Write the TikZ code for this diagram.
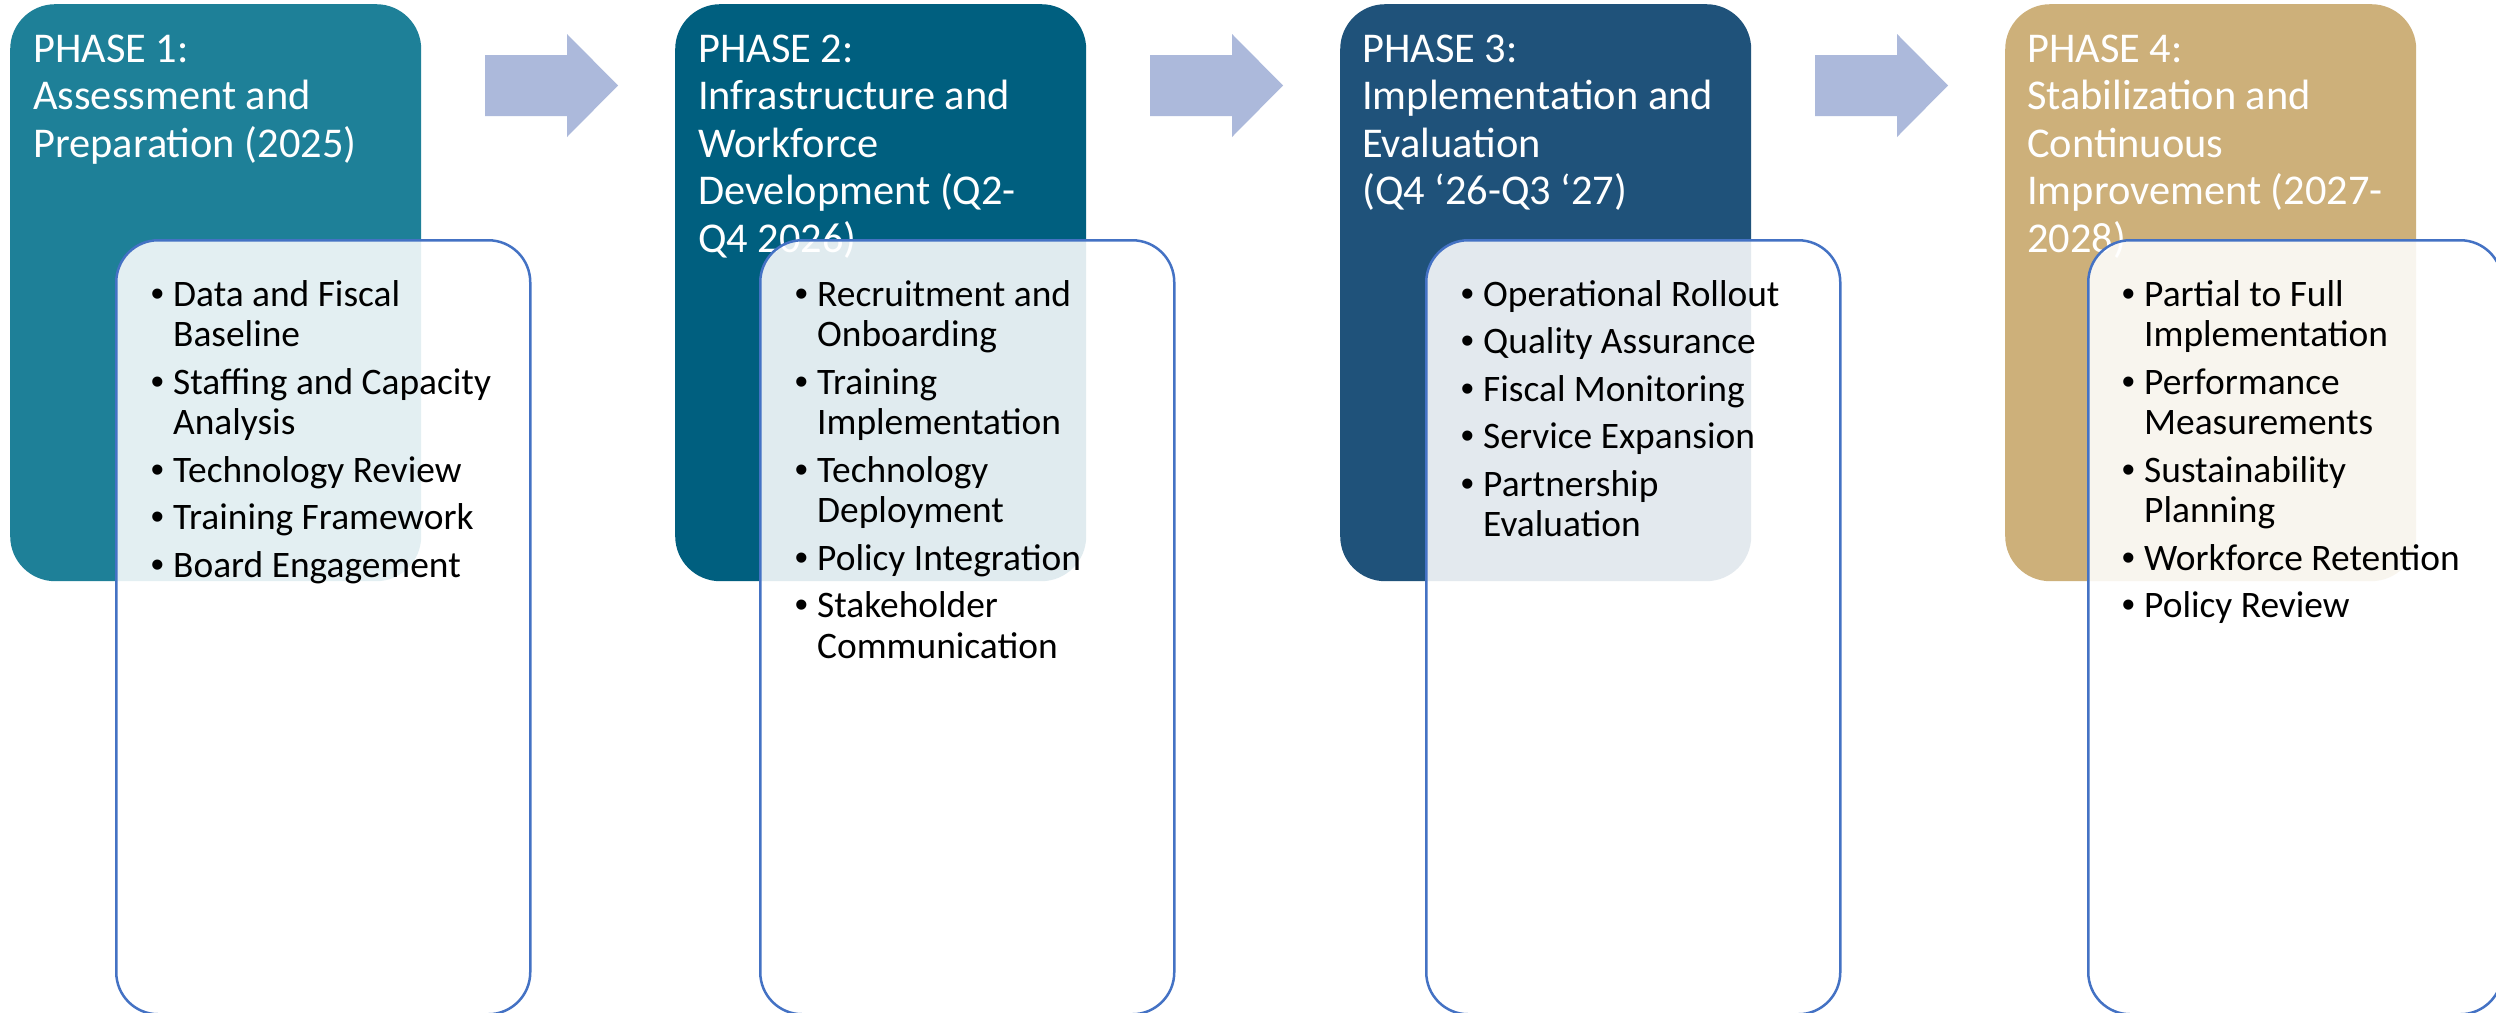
\documentclass[tikz,border=0pt]{standalone}
\usepackage{fontspec}
\setmainfont{Carlito}
\newfontfamily\bulfont{Liberation Sans}
\definecolor{cone}{HTML}{1E8098}
\definecolor{ctwo}{HTML}{005F7F}
\definecolor{cthree}{HTML}{1F527A}
\definecolor{cfour}{HTML}{CDB07A}
\definecolor{carrow}{HTML}{ACB9DB}
\definecolor{cinner}{HTML}{4472C4}
\tikzset{
  phasebox/.style={draw=none, rounded corners=45pt, minimum width=411pt, minimum height=577pt, anchor=north west, inner sep=0pt},
  listbox/.style={draw=cinner, line width=2.5pt, fill=white, fill opacity=0.88, rounded corners=42pt, minimum width=414pt, minimum height=774pt, anchor=north west, inner sep=0pt},
  ttl/.style={anchor=base west, inner sep=0pt, text=white, font=\fontsize{42.4}{48}\selectfont},
  itm/.style={anchor=base west, inner sep=0pt, text=black, font=\fontsize{37.4}{40}\selectfont},
  bul/.style={anchor=base, inner sep=0pt, text=black, font=\bulfont\fontsize{37.4}{40}\selectfont},
  blockarrow/.style={fill=carrow, draw=none}
}
\begin{document}
\begin{tikzpicture}[x=1pt,y=-1pt]
\useasboundingbox (0,0) rectangle (2496,1012);
\clip (0,0) rectangle (2496,1012);
\fill[white] (0,0) rectangle (2496,1012);

% phase boxes
\node[phasebox, fill=cone]   (b1) at (10,4) {};
\node[phasebox, fill=ctwo]   (b2) at (675,4) {};
\node[phasebox, fill=cthree] (b3) at (1340,4) {};
\node[phasebox, fill=cfour]  (b4) at (2005,4) {};

% block arrows
\foreach \x [count=\k] in {485,1150,1815} {
  \fill[blockarrow] (\x,55) -- ({\x+82},55) -- ({\x+82},34) -- ({\x+133},85.5) -- ({\x+82},137) -- ({\x+82},116) -- (\x,116) -- cycle;
}

% titles
\foreach \t [count=\i from 0] in {PHASE 1:, Assessment and, Preparation (2025)}
  \node[ttl] (ta-\i) at (33,{62+47.5*\i}) {\t};
\foreach \t [count=\i from 0] in {PHASE 2:, Infrastructure and, Workforce, Development (Q2-, Q4 2026)}
  \node[ttl] (tb-\i) at (698,{62+47.5*\i}) {\t};
\foreach \t [count=\i from 0] in {PHASE 3:, Implementation and, Evaluation, {(Q4 ‘26-Q3 ‘27)}}
  \node[ttl] (tc-\i) at (1362,{62+47.5*\i}) {\t};
\foreach \t [count=\i from 0] in {PHASE 4:, Stabilization and, Continuous, Improvement (2027-, 2028)}
  \node[ttl] (td-\i) at (2027,{62+47.5*\i}) {\t};

% list boxes
\node[listbox] (l1) at (115,239) {};
\node[listbox] (l2) at (759,239) {};
\node[listbox] (l3) at (1425,239) {};
\node[listbox] (l4) at (2087,239) {};

% list items
\foreach \b/\t/\yy [count=\i] in {1/Data and Fiscal/306, 0/Baseline/346.5, 1/Staffing and Capacity/394, 0/Analysis/434.5, 1/Technology Review/482, 1/Training Framework/529.5, 1/Board Engagement/577} {
  \node[itm] (ia-\i) at (173,\yy) {\t};
  \ifnum\b=1 \node[bul] (da-\i) at (157.5,\yy) {•};\fi
}
\foreach \b/\t/\yy [count=\i] in {1/Recruitment and/306, 0/Onboarding/346.5, 1/Training/394, 0/Implementation/434.5, 1/Technology/482, 0/Deployment/522.5, 1/Policy Integration/570, 1/Stakeholder/617.5, 0/Communication/658} {
  \node[itm] (ib-\i) at (817,\yy) {\t};
  \ifnum\b=1 \node[bul] (db-\i) at (801.5,\yy) {•};\fi
}
\foreach \b/\t/\yy [count=\i] in {1/Operational Rollout/306, 1/Quality Assurance/353.5, 1/Fiscal Monitoring/401, 1/Service Expansion/448.5, 1/Partnership/496, 0/Evaluation/536.5} {
  \node[itm] (ic-\i) at (1483,\yy) {\t};
  \ifnum\b=1 \node[bul] (dc-\i) at (1467.5,\yy) {•};\fi
}
\foreach \b/\t/\yy [count=\i] in {1/Partial to Full/306, 0/Implementation/346.5, 1/Performance/394, 0/Measurements/434.5, 1/Sustainability/482, 0/Planning/522.5, 1/Workforce Retention/570, 1/Policy Review/617.5} {
  \node[itm] (id-\i) at (2144,\yy) {\t};
  \ifnum\b=1 \node[bul] (dd-\i) at (2128.5,\yy) {•};\fi
}
\end{tikzpicture}
\end{document}
